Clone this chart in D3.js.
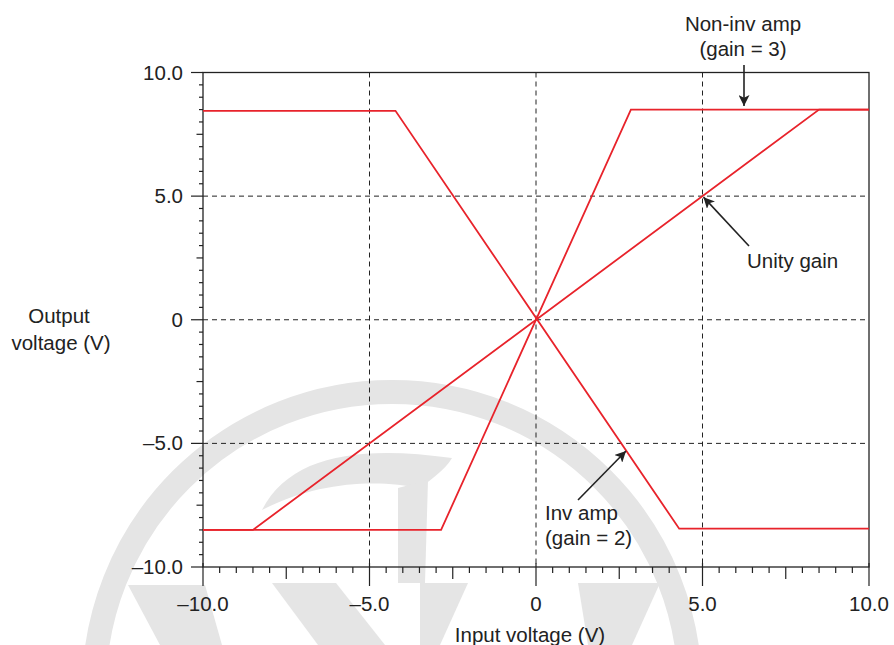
<!DOCTYPE html>
<html><head><meta charset="utf-8">
<script src="https://cdn.jsdelivr.net/npm/d3@7"></script>
<style>html,body{margin:0;padding:0;background:#fff;}svg{display:block;font-family:"Liberation Sans",Arial,Helvetica,sans-serif;}</style>
</head><body><svg id="c" width="894" height="645"></svg>
<script>
// ---- data ----
const xTickValues = [-10, -5, 0, 5, 10];
const xTickLabels = ["–10.0", "–5.0", "0", "5.0", "10.0"];
const yTickValues = [-10, -5, 0, 5, 10];
const yTickLabels = ["–10.0", "–5.0", "0", "5.0", "10.0"];
const gridValues = [-5, 0, 5];

const unityX = [-10, -8.5, 8.5, 10];
const unityY = [-8.5, -8.5, 8.5, 8.5];
const nonInvX = [-10, -2.85, 2.85, 10];
const nonInvY = [-8.5, -8.5, 8.5, 8.5];
const invX = [-10, -4.22, 4.3, 10];
const invY = [8.45, 8.45, -8.45, -8.45];

const xLabel = "Input voltage (V)";
const yLabel = ["Output", "voltage (V)"];

// ---- layout ----
const svg = d3.select("#c");
const x = d3.scaleLinear().domain([-10, 10]).range([203, 869]);
const y = d3.scaleLinear().domain([-10, 10]).range([567, 72.5]);
const red = "#e8232b";
const fs = 20.5;

// watermark (light grey background logo)
const wm = svg.append("g").attr("fill", "#e5e5e5").attr("stroke", "none");
wm.append("circle").attr("cx", 392).attr("cy", 690).attr("r", 298)
  .attr("fill", "none").attr("stroke", "#e5e5e5").attr("stroke-width", 24);
wm.append("path").attr("d", "M262,510 C290,455 360,445 452,458 C445,470 430,480 420,488 C380,480 320,480 262,510 Z");
wm.append("path").attr("d", "M398,488 L428,480 L425,583 L398,583 Z");
wm.append("path").attr("d", "M420,583 L468,583 L440,645 L420,645 Z");
wm.append("path").attr("d", "M128,585 L205,585 L222,645 L160,645 Z");
wm.append("path").attr("d", "M272,583 L336,583 L385,645 L318,645 Z");
wm.append("path").attr("d", "M578,583 L660,583 L632,645 L588,645 Z");

// gridlines
const grid = svg.append("g").attr("stroke", "#222").attr("stroke-width", 1).attr("stroke-dasharray", "5,4");
grid.selectAll(".gx").data(gridValues).join("line")
  .attr("x1", d => x(d)).attr("x2", d => x(d)).attr("y1", y(10)).attr("y2", y(-10));
grid.selectAll(".gy").data(gridValues).join("line")
  .attr("y1", d => y(d)).attr("y2", d => y(d)).attr("x1", x(-10)).attr("x2", x(10));

// frame
svg.append("rect").attr("x", x(-10)).attr("y", y(10)).attr("width", x(10) - x(-10)).attr("height", y(-10) - y(10))
  .attr("fill", "none").attr("stroke", "#222").attr("stroke-width", 1.3);

// ticks
const minor = d3.range(-10, 10.01, 0.5);
const tg = svg.append("g").attr("stroke", "#222").attr("stroke-width", 1.2);
function kind(v) { const a = Math.abs(v); if (Math.abs(a % 5) < 1e-6) return 2; if (Math.abs(a % 2.5) < 1e-6) return 1; return 0; }
tg.selectAll(".tx").data(minor).join("line")
  .attr("x1", d => x(d)).attr("x2", d => x(d))
  .attr("y1", d => kind(d) === 2 ? y(-10) - 4 : y(-10))
  .attr("y2", d => y(-10) + [6, 12, 19][kind(d)]);
tg.selectAll(".ty").data(minor).join("line")
  .attr("y1", d => y(d)).attr("y2", d => y(d))
  .attr("x1", x(-10))
  .attr("x2", d => x(-10) - [4, 6.5, 12][kind(d)]);

// tick labels
svg.append("g").selectAll("text").data(xTickValues).join("text")
  .attr("x", d => x(d)).attr("y", 611).attr("text-anchor", "middle")
  .attr("font-size", fs).attr("fill", "#222").text((d, i) => xTickLabels[i]);
svg.append("g").selectAll("text").data(yTickValues).join("text")
  .attr("x", 183).attr("y", d => y(d) + 7).attr("text-anchor", "end")
  .attr("font-size", fs).attr("fill", "#222").text((d, i) => yTickLabels[i]);

// axis labels
svg.append("text").attr("x", 530).attr("y", 642).attr("text-anchor", "middle")
  .attr("font-size", fs).attr("fill", "#222").text(xLabel);
svg.append("text").attr("x", 59).attr("y", 323).attr("text-anchor", "middle")
  .attr("font-size", fs).attr("fill", "#222").text(yLabel[0]);
svg.append("text").attr("x", 61).attr("y", 350).attr("text-anchor", "middle")
  .attr("font-size", fs).attr("fill", "#222").text(yLabel[1]);

// series
const line = d3.line().x(d => x(d[0])).y(d => y(d[1]));
[[unityX, unityY], [nonInvX, nonInvY], [invX, invY]].forEach(([xs, ys]) => {
  svg.append("path").datum(xs.map((v, i) => [v, ys[i]]))
    .attr("d", line).attr("fill", "none").attr("stroke", red).attr("stroke-width", 1.8)
    .attr("stroke-linejoin", "miter");
});

// annotations
svg.append("defs").append("marker").attr("id", "ah").attr("viewBox", "0 0 10 10")
  .attr("refX", 10).attr("refY", 5).attr("markerWidth", 11).attr("markerHeight", 11)
  .attr("markerUnits", "userSpaceOnUse").attr("orient", "auto")
  .append("path").attr("d", "M0,0 L10,5 L0,10 L2.5,5 Z").attr("fill", "#222");
function arrow(x1, y1, x2, y2) {
  svg.append("line").attr("x1", x1).attr("y1", y1).attr("x2", x2).attr("y2", y2)
    .attr("stroke", "#222").attr("stroke-width", 1.6).attr("marker-end", "url(#ah)");
}
function label(tx, ty, lines, anchor) {
  lines.forEach((t, i) => svg.append("text").attr("x", tx).attr("y", ty + i * 25)
    .attr("text-anchor", anchor).attr("font-size", fs).attr("fill", "#222").text(t));
}
label(743, 31, ["Non-inv amp", "(gain = 3)"], "middle");
arrow(744, 65, 744, 106);
label(747, 268, ["Unity gain"], "start");
arrow(749, 246, x(5) + 1, y(5) + 1);
label(545, 520, ["Inv amp", "(gain = 2)"], "start");
arrow(578, 500, 626, 451);
</script></body></html>
